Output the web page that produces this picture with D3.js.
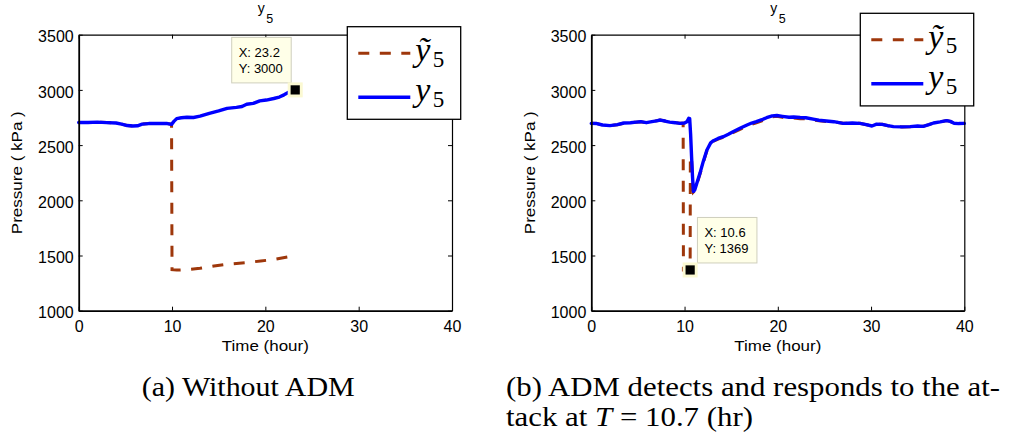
<!DOCTYPE html>
<html>
<head>
<meta charset="utf-8">
<script src="https://cdn.jsdelivr.net/npm/d3@7"></script>
</head>
<body style="margin:0">
<svg id="fig" width="1016" height="437"></svg>
<script>
// ---- shared axis ticks ----
const timeTicks = [0, 10, 20, 30, 40];
const pressureTicks = [1000, 1500, 2000, 2500, 3000, 3500];

// ---- panel (a): no anomaly detection ----
// measured pressure y5
const aTime = [0, 1, 2, 3, 4, 4.6, 5.2, 5.8, 6.3, 6.8, 7.5, 8.5, 9.5, 9.95, 10.2, 10.5, 11, 11.6, 12.3, 13,
  14, 15, 15.9, 16.9, 17.5, 18, 18.7, 19.4, 20.1, 20.9, 21.5, 22, 22.5, 23.2];
const aMeasured = [2705, 2705, 2708, 2704, 2700, 2690, 2677, 2673, 2675, 2690, 2695, 2697, 2695, 2688, 2715, 2740, 2748, 2752, 2750, 2762,
  2788, 2810, 2833, 2842, 2850, 2870, 2878, 2900, 2908, 2922, 2935, 2955, 2978, 3000];
// reported (attacked) pressure
const aTimeReported = [0, 1, 2, 3, 4, 4.6, 5.2, 5.8, 6.3, 6.8, 7.5, 8.5, 9.5, 9.95, 10.0, 10.5, 11.5, 13,
  14.5, 16, 18, 19.5, 21, 22.5];
const aReported = [2705, 2705, 2708, 2704, 2700, 2690, 2677, 2673, 2675, 2690, 2695, 2697, 2695, 2688, 1372, 1368, 1372, 1384,
  1405, 1422, 1436, 1450, 1465, 1488];
const aTip = { x: 23.2, y: 3000 };

// ---- panel (b): ADM detects and responds ----
const bTime = [0, 0.6, 1.2, 2.0, 2.8, 3.5, 4.2, 4.8, 5.3, 5.9, 6.5, 7.0, 7.4, 7.9, 8.4, 9.0, 9.5, 10.0, 10.25, 10.45,
  10.55, 10.65, 10.75, 10.85, 10.95, 11.1, 11.3, 11.65, 12.0, 12.4, 12.8, 13.1, 13.6, 14.15, 14.7, 15.2, 16.0, 16.7, 17.2, 17.7,
  18.3, 18.8, 19.4, 19.9, 20.5, 21.2, 21.7, 22.4, 23.0, 23.8, 24.4, 25.2, 26.0, 27.0, 28.0, 28.8, 29.5, 30.1, 30.6, 31.2,
  31.8, 32.4, 33.3, 34.2, 35.0, 35.6, 36.2, 36.7, 37.4, 38.1, 38.5, 38.9, 39.4, 40];
const bMeasured = [2697, 2695, 2682, 2676, 2685, 2700, 2703, 2708, 2712, 2703, 2712, 2720, 2727, 2718, 2708, 2703, 2697, 2700, 2712, 2743,
  2740, 2600, 2400, 2220, 2080, 2095, 2150, 2244, 2350, 2456, 2520, 2540, 2560, 2576, 2598, 2621, 2655, 2682, 2700, 2712,
  2730, 2748, 2765, 2768, 2760, 2752, 2755, 2750, 2748, 2735, 2725, 2718, 2712, 2697, 2700, 2697, 2685, 2673, 2690, 2688,
  2676, 2667, 2665, 2667, 2673, 2670, 2685, 2700, 2710, 2722, 2715, 2698, 2695, 2697];
const bTimeReported = [0, 0.6, 1.2, 2.0, 2.8, 3.5, 4.2, 4.8, 5.3, 5.9, 6.5, 7.0, 7.4, 7.9, 8.4, 9.0, 9.5, 9.85, 9.88, 10.6,
  10.62, 10.75, 10.85, 10.95, 11.1, 11.3, 11.65, 12.0, 12.4, 12.8, 13.1, 13.6, 14.15, 14.7, 15.2, 16.0, 16.7, 17.2, 17.7,
  18.3, 18.8, 19.4, 19.9, 20.5, 21.2, 21.7, 22.4, 23.0, 23.8, 24.4, 25.2, 26.0, 27.0, 28.0, 28.8, 29.5, 30.1, 30.6, 31.2,
  31.8, 32.4, 33.3, 34.2, 35.0, 35.6, 36.2, 36.7, 37.4, 38.1, 38.5, 38.9, 39.4, 40];
const bReported = [2697, 2695, 2682, 2676, 2685, 2700, 2703, 2708, 2712, 2703, 2712, 2720, 2727, 2718, 2708, 2703, 2697, 2698, 1369, 1369,
  2400, 2380, 2210, 2075, 2088, 2140, 2235, 2340, 2450, 2515, 2535, 2555, 2570, 2590, 2612, 2645, 2672, 2688, 2702,
  2720, 2738, 2755, 2762, 2752, 2742, 2745, 2738, 2738, 2728, 2720, 2714, 2712, 2697, 2700, 2697, 2685, 2673, 2690, 2688,
  2676, 2667, 2665, 2667, 2673, 2670, 2685, 2700, 2710, 2722, 2715, 2698, 2695, 2697];
const bTip = { x: 10.6, y: 1369 };

const REPORTED_COLOR = "#9e370b";
const MEASURED_COLOR = "#0000ff";
const SANS = "Liberation Sans";
const SERIF = "Liberation Serif";

const svg = d3.select("#fig");

function addText(parent, family, size) {
  return parent.append("text")
    .attr("font-family", family)
    .attr("font-size", size)
    .style("font-family", family, "important")
    .attr("fill", "#000");
}

function drawPanel(cfg) {
  const g = svg.append("g");
  const x = d3.scaleLinear().domain([0, 40]).range([cfg.left, cfg.right]);
  const y = d3.scaleLinear().domain([1000, 3500]).range([cfg.bottom, cfg.top]);
  const line = d3.line().x(d => x(d[0])).y(d => y(d[1]));

  // series
  g.append("path")
    .datum(d3.zip(cfg.tRep, cfg.rep))
    .attr("d", line)
    .attr("fill", "none")
    .attr("stroke", REPORTED_COLOR)
    .attr("stroke-width", 3)
    .attr("stroke-dasharray", "11,10.5");
  g.append("path")
    .datum(d3.zip(cfg.tMeas, cfg.meas))
    .attr("d", line)
    .attr("fill", "none")
    .attr("stroke", MEASURED_COLOR)
    .attr("stroke-width", 3.4)
    .attr("stroke-linejoin", "round")
    .attr("stroke-linecap", "round");

  // axes with inward ticks on all four sides
  const fmt = d3.format("d");
  const styleAxis = (sel, w) => {
    sel.attr("font-family", SANS).attr("font-size", 16);
    sel.selectAll(".domain").attr("stroke", "#000").attr("stroke-width", w);
    sel.selectAll(".tick line").attr("stroke", "#000").attr("stroke-width", 1);
    sel.selectAll(".tick text").attr("fill", "#000").style("font-family", SANS, "important");
  };
  const bottomAxis = g.append("g").attr("transform", `translate(0,${cfg.bottom})`)
    .call(d3.axisBottom(x).tickValues(timeTicks).tickFormat(fmt).tickSize(-4).tickSizeOuter(0).tickPadding(10));
  styleAxis(bottomAxis, 1.8);
  const topAxis = g.append("g").attr("transform", `translate(0,${cfg.top})`)
    .call(d3.axisTop(x).tickValues(timeTicks).tickSize(-4).tickSizeOuter(0).tickFormat(""));
  styleAxis(topAxis, 1.2);
  const leftAxis = g.append("g").attr("transform", `translate(${cfg.left},0)`)
    .call(d3.axisLeft(y).tickValues(pressureTicks).tickFormat(fmt).tickSize(-4).tickSizeOuter(0).tickPadding(5));
  styleAxis(leftAxis, 1.8);
  leftAxis.selectAll(".tick text").attr("dy", "0.45em");
  const rightAxis = g.append("g").attr("transform", `translate(${cfg.right},0)`)
    .call(d3.axisRight(y).tickValues(pressureTicks).tickSize(-4).tickSizeOuter(0).tickFormat(""));
  styleAxis(rightAxis, 1.2);

  const cx = (cfg.left + cfg.right) / 2;
  // axis labels
  addText(g, SANS, 15)
    .attr("x", cx).attr("y", cfg.bottom + 40.5)
    .attr("text-anchor", "middle")
    .attr("textLength", 87).attr("lengthAdjust", "spacingAndGlyphs")
    .text("Time (hour)");
  addText(g, SANS, 15)
    .attr("transform", `translate(${cfg.left - 56.5},${(cfg.top + cfg.bottom) / 2}) rotate(-90)`)
    .attr("text-anchor", "middle")
    .attr("textLength", 123).attr("lengthAdjust", "spacingAndGlyphs")
    .text("Pressure ( kPa )");

  // title y_5
  addText(g, SANS, 14).attr("x", cx - 7.5).attr("y", 13).text("y");
  addText(g, SANS, 12.5).attr("x", cx + 1).attr("y", 22.5).text("5");

  // data tip
  const mx = x(cfg.tip.x), my = y(cfg.tip.y);
  const bx = mx + cfg.tipDx, by = my + cfg.tipDy;
  g.append("rect").attr("x", bx).attr("y", by).attr("width", 59.5).attr("height", 45.5)
    .attr("fill", "#ffffe8").attr("stroke", "#cfcfbd").attr("stroke-width", 1);
  addText(g, SANS, 13).attr("x", bx + 7).attr("y", by + 20).text(`X: ${cfg.tip.x}`);
  addText(g, SANS, 13).attr("x", bx + 7).attr("y", by + 35.5).text(`Y: ${cfg.tip.y}`);
  g.append("rect").attr("x", mx - 7.5).attr("y", my - 7.5).attr("width", 15).attr("height", 15)
    .attr("fill", "#fbf9d2");
  g.append("rect").attr("x", mx - 4.6).attr("y", my - 4.6).attr("width", 9.2).attr("height", 9.2)
    .attr("fill", "#000");

  // legend
  const lx = cfg.legX, ly = cfg.legY;
  g.append("rect").attr("x", lx).attr("y", ly).attr("width", 113.4).attr("height", 92.6)
    .attr("fill", "#fff").attr("stroke", "#000").attr("stroke-width", 1.3);
  g.append("line").attr("x1", lx + 11).attr("x2", lx + 63).attr("y1", ly + 26.5).attr("y2", ly + 26.5)
    .attr("stroke", REPORTED_COLOR).attr("stroke-width", 3).attr("stroke-dasharray", "11,10.5");
  g.append("line").attr("x1", lx + 11).attr("x2", lx + 63).attr("y1", ly + 70.5).attr("y2", ly + 70.5)
    .attr("stroke", MEASURED_COLOR).attr("stroke-width", 3.4);
  addText(g, SERIF, 34).attr("x", lx + 68).attr("y", ly + 34.5).attr("font-style", "italic").text("ỹ");
  addText(g, SERIF, 23).attr("x", lx + 85.5).attr("y", ly + 40).text("5");
  addText(g, SERIF, 34).attr("x", lx + 68).attr("y", ly + 74.5).attr("font-style", "italic").text("y");
  addText(g, SERIF, 23).attr("x", lx + 85.5).attr("y", ly + 80.5).text("5");
}

drawPanel({
  left: 78.7, right: 452, top: 34.7, bottom: 310.7,
  tMeas: aTime, meas: aMeasured, tRep: aTimeReported, rep: aReported,
  tip: aTip, tipDx: -63.5, tipDy: -52.5,
  legX: 347.3, legY: 26.7
});
drawPanel({
  left: 591.3, right: 964.3, top: 34.7, bottom: 310.7,
  tMeas: bTime, meas: bMeasured, tRep: bTimeReported, rep: bReported,
  tip: bTip, tipDx: 7.3, tipDy: -52.5,
  legX: 860.3, legY: 13.3
});

// sub-figure captions
addText(svg, SERIF, 27).attr("x", 141.7).attr("y", 396)
  .attr("textLength", 213).attr("lengthAdjust", "spacingAndGlyphs")
  .text("(a) Without ADM");
addText(svg, SERIF, 27).attr("x", 506).attr("y", 396)
  .attr("textLength", 494).attr("lengthAdjust", "spacingAndGlyphs")
  .text("(b) ADM detects and responds to the at-");
const cap2 = addText(svg, SERIF, 27).attr("x", 506).attr("y", 426)
  .attr("textLength", 247).attr("lengthAdjust", "spacingAndGlyphs");
cap2.append("tspan").text("tack at ");
cap2.append("tspan").attr("font-style", "italic").text("T");
cap2.append("tspan").text(" = 10.7 (hr)");
</script>
</body>
</html>
